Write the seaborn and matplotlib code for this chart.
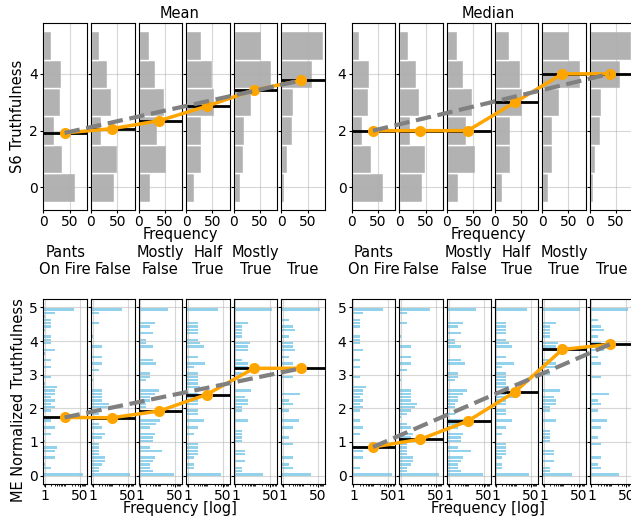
import numpy as np
import pandas as pd
import matplotlib
matplotlib.use('Agg')
import matplotlib.pyplot as plt
import seaborn as sns
from matplotlib.ticker import NullFormatter

# categories (left to right)
labels = ['Pants\nOn Fire', 'False', 'Mostly\nFalse', 'Half\nTrue', 'Mostly\nTrue', 'True']

# S6 truthfulness histograms, counts for values 0..5
s6_values = [0, 1, 2, 3, 4, 5]
s6_counts = [
    [60, 36, 20, 31, 33, 14],
    [44, 49, 20, 38, 31, 16],
    [21, 53, 36, 48, 31, 20],
    [15, 29, 29, 53, 49, 28],
    [12, 18, 19, 32, 71, 51],
    [6, 10, 20, 22, 58, 79],
]
s6_mean = [1.92, 2.07, 2.35, 2.86, 3.43, 3.77]
s6_median = [2, 2, 2, 3, 4, 4]

# ME normalized truthfulness histograms, 50 bins of 0.1 between 0 and 5
me_counts = [
    [72, 0, 2, 1, 0, 3, 0, 3, 4, 0, 1, 0, 2, 0, 3, 0, 2, 1, 0, 2, 3, 2, 3, 2, 3,
     3, 4, 1, 0, 2, 0, 0, 2, 0, 2, 0, 1, 3, 0, 2, 2, 2, 0, 1, 2, 2, 2, 1, 3, 27],
    [67, 2, 2, 3, 4, 4, 2, 2, 2, 2, 0, 3, 4, 0, 3, 2, 0, 1, 2, 3, 5, 6, 3, 3, 3,
     3, 0, 0, 1, 0, 0, 2, 0, 3, 0, 3, 0, 0, 3, 0, 0, 1, 0, 0, 0, 2, 0, 0, 2, 27],
    [46, 4, 3, 3, 4, 5, 0, 12, 3, 0, 4, 4, 5, 0, 3, 6, 9, 0, 2, 0, 2, 2, 3, 3, 5,
     8, 0, 0, 2, 3, 3, 0, 0, 6, 4, 0, 0, 0, 4, 2, 2, 0, 4, 0, 3, 5, 0, 0, 0, 22],
    [39, 0, 2, 2, 0, 2, 3, 3, 3, 3, 0, 0, 2, 0, 3, 0, 6, 0, 3, 3, 0, 3, 3, 9, 3,
     0, 4, 3, 3, 3, 3, 0, 2, 7, 0, 3, 0, 0, 6, 4, 3, 0, 3, 3, 3, 3, 0, 0, 0, 30],
    [23, 2, 2, 0, 3, 0, 3, 3, 0, 0, 2, 2, 2, 2, 0, 0, 4, 0, 0, 2, 2, 4, 4, 3, 0,
     6, 0, 0, 0, 0, 2, 0, 4, 4, 2, 0, 0, 4, 4, 5, 0, 2, 2, 2, 2, 4, 0, 0, 0, 58],
    [23, 0, 3, 2, 0, 3, 0, 0, 0, 3, 0, 2, 0, 0, 3, 0, 6, 0, 0, 2, 0, 3, 2, 0, 7,
     0, 0, 0, 0, 3, 0, 0, 0, 3, 0, 2, 0, 4, 3, 3, 0, 2, 0, 4, 3, 0, 2, 0, 0, 62],
]
me_mean = [1.73, 1.72, 1.92, 2.41, 3.19, 3.19]
me_median = [0.85, 1.08, 1.62, 2.49, 3.75, 3.90]

s6_edges = list(np.arange(-0.5, 6, 1))
me_edges = list(np.linspace(0, 5, 51))
me_values = [e + 0.05 for e in me_edges[:-1]]

W, H = 631, 519
fig = plt.figure(figsize=(W / 100, H / 100), dpi=100)


def box(x0, y0, w, h):
    return [x0 / W, 1 - (y0 + h) / H, w / W, h / H]


step, pw = 47.6, 43.7
group_x = [43.3, 351.7]
row_y = [22.7, 299]
row_h = [187.5, 185]

rows = [
    (s6_values, s6_counts, s6_edges, [s6_mean, s6_median]),
    (me_values, me_counts, me_edges, [me_mean, me_median]),
]

for r, (vals, counts, edges, stats) in enumerate(rows):
    for g in range(2):
        stat = stats[g]
        for i in range(6):
            ax = fig.add_axes(box(group_x[g] + i * step, row_y[r], pw, row_h[r]))
            df = pd.DataFrame({'value': vals, 'count': counts[i]})
            if r == 0:
                sns.histplot(data=df, y='value', weights='count', bins=edges, color='gray',
                             alpha=0.6, edgecolor='white', linewidth=1, ax=ax)
                ax.set_xlim(0, max(max(c) for c in counts) * 1.05)
                ax.set_xticks([0, 50])
                ax.set_yticks([0, 2, 4])
            else:
                sns.histplot(data=df, y='value', weights='count', bins=edges, color='skyblue',
                             alpha=0.9, edgecolor='white', linewidth=0.7, ax=ax)
                ax.set_xscale('log')
                ax.set_xlim(0.82, 110)
                ax.set_xticks([1, 50], ['1', '50'])
                ax.xaxis.set_minor_formatter(NullFormatter())
                ax.set_yticks(range(6))
                ax.set_title(labels[i], fontsize=10.5, pad=18)
            ax.axhline(stat[i], color='black', lw=2)
            ax.set_xlabel('')
            ax.set_ylabel('')
            ax.grid(True, color='#b0b0b0', alpha=0.5, lw=0.8)
            ax.tick_params(labelsize=10, length=2.5, pad=1.2)
            ax.tick_params(which='minor', length=1.5)
            if i > 0:
                ax.tick_params(labelleft=False)
            ylim = ax.get_ylim()

        # overlay with the statistic across categories
        ov = fig.add_axes(box(group_x[g], row_y[r], 5 * step + pw, row_h[r]))
        ov.patch.set_alpha(0)
        sns.lineplot(x=list(range(6)), y=stat, ax=ov, color='orange', lw=2.5,
                     marker='o', markersize=8, markeredgewidth=0)
        ov.plot([0, 5], [stat[0], stat[-1]], '--', color='gray', lw=3)
        ov.set_xlim(-0.45, 5.5)
        ov.set_ylim(ylim)
        ov.axis('off')

fs = 10.5
fig.text(180 / W, 1 - 13 / H, 'Mean', ha='center', va='center', fontsize=fs)
fig.text(488 / W, 1 - 13 / H, 'Median', ha='center', va='center', fontsize=fs)
for x in (180, 488):
    fig.text(x / W, 1 - 235 / H, 'Frequency', ha='center', va='center', fontsize=fs)
    fig.text(x / W, 1 - 509 / H, 'Frequency [log]', ha='center', va='center', fontsize=fs)
fig.text(17.5 / W, 1 - 116 / H, 'S6 Truthfulness', rotation=90,
         ha='center', va='center', fontsize=fs)
fig.text(19 / W, 1 - 400 / H, 'ME Normalized Truthfulness', rotation=90,
         ha='center', va='center', fontsize=fs)

fig.savefig('out.png', dpi=100)
